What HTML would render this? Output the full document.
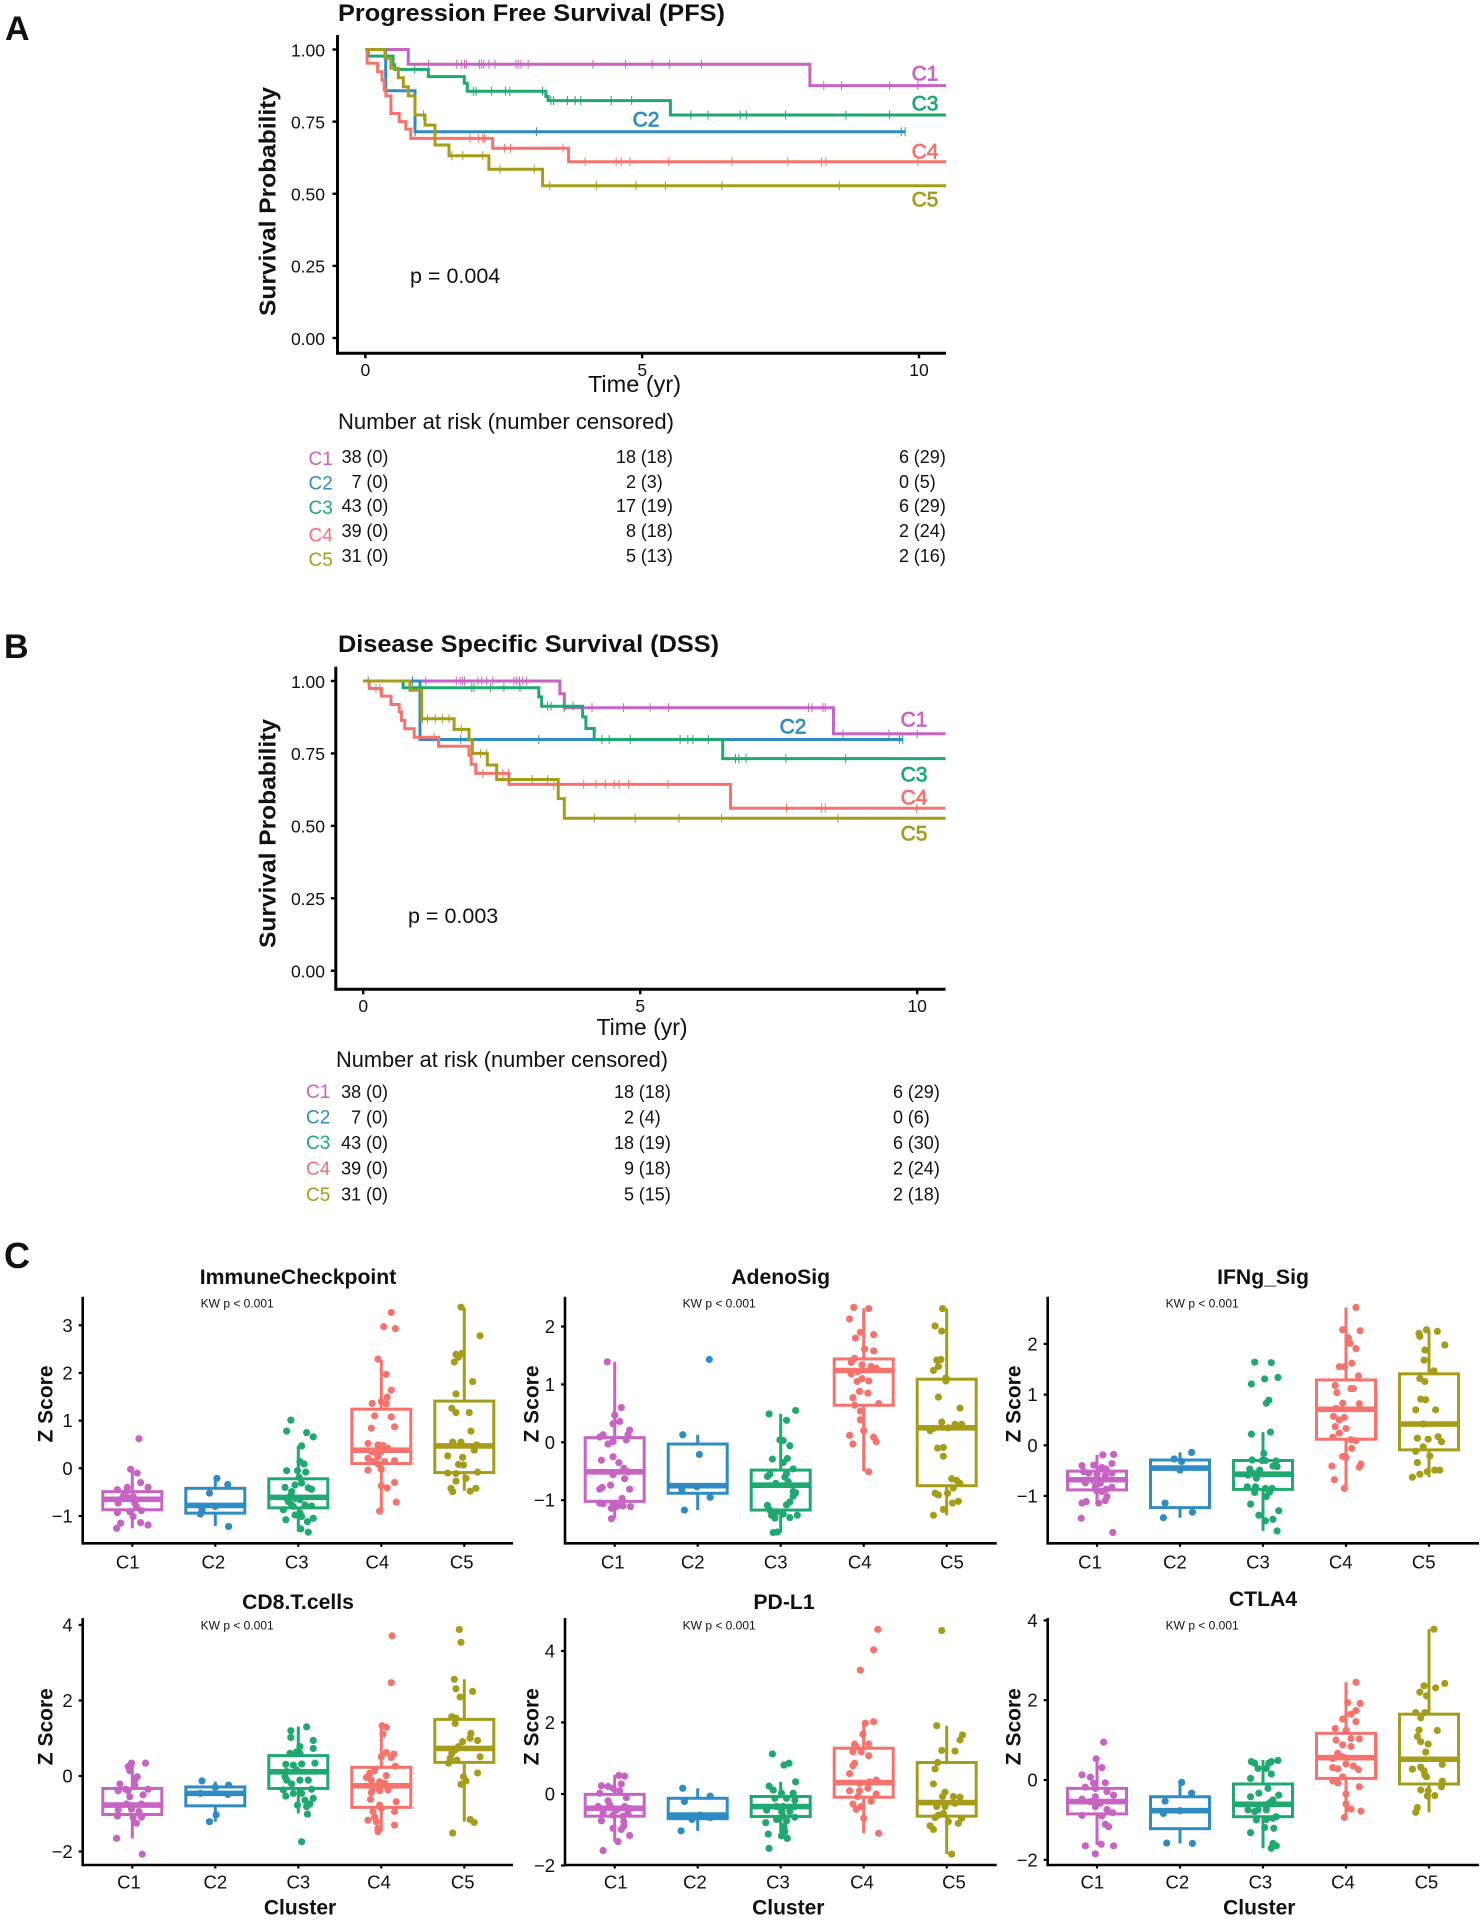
<!DOCTYPE html>
<html lang="en">
<head>
<meta charset="utf-8">
<title>Survival curves and immune score boxplots</title>
<style>
html,body{margin:0;padding:0;background:#fff;}
svg{display:block;font-family:"Liberation Sans",sans-serif;}
text{fill:#111;}
</style>
</head>
<body>
<svg id="figure" xmlns="http://www.w3.org/2000/svg" width="1483" height="1920" viewBox="0 0 1483 1920">
  <rect x="0" y="0" width="1483" height="1920" fill="#fff"/>
  <text x="5" y="40" font-size="34" font-weight="700">A</text>
  <text x="4" y="658" font-size="34" font-weight="700">B</text>
  <text x="4" y="1268" font-size="36" font-weight="700">C</text>

  <text x="338" y="21" font-size="24" font-weight="700" textLength="387" lengthAdjust="spacingAndGlyphs">Progression Free Survival (PFS)</text>
  <text transform="translate(275.5 316) rotate(-90)" font-size="23" font-weight="700" textLength="229" lengthAdjust="spacingAndGlyphs">Survival Probability</text>
  <text x="634.5" y="392" font-size="23.5" text-anchor="middle">Time (yr)</text>
  <text x="410" y="283" font-size="21.5">p = 0.004</text>
  <text x="338" y="429" font-size="22" textLength="336" lengthAdjust="spacingAndGlyphs">Number at risk (number censored)</text>

  <text x="338" y="652" font-size="24" font-weight="700" textLength="381" lengthAdjust="spacingAndGlyphs">Disease Specific Survival (DSS)</text>
  <text transform="translate(275.5 948) rotate(-90)" font-size="23" font-weight="700" textLength="229" lengthAdjust="spacingAndGlyphs">Survival Probability</text>
  <text x="642" y="1035" font-size="23" text-anchor="middle">Time (yr)</text>
  <text x="408" y="923" font-size="21.5">p = 0.003</text>
  <text x="336" y="1067" font-size="22" textLength="332" lengthAdjust="spacingAndGlyphs">Number at risk (number censored)</text>
</svg>
<script>
const categories = ['C1', 'C2', 'C3', 'C4', 'C5'];
const clusterColors = ['#c763c3', '#2f8cc2', '#1fa971', '#f5736c', '#a59d1a'];

/* ---------- survival data: [time, survival] steps ---------- */
const pfsC1Steps = [[0.775,0.949],[8.03,0.875]];
const pfsC2Steps = [[0.366,0.857],[0.896,0.715]];
const pfsC3Steps = [[0.05,0.977],[0.5,0.947],[0.53,0.931],[1.137,0.906],[1.787,0.883],[1.84,0.855],[3.26,0.837],[3.30,0.823],[5.51,0.773]];
const pfsC4Steps = [[0.03,0.952],[0.22,0.923],[0.30,0.894],[0.34,0.86],[0.37,0.839],[0.46,0.778],[0.61,0.75],[0.73,0.724],[0.82,0.692],[2.30,0.658],[3.67,0.611]];
const pfsC5Steps = [[0.354,0.969],[0.46,0.935],[0.594,0.902],[0.685,0.871],[0.775,0.839],[0.896,0.773],[1.076,0.738],[1.257,0.669],[1.51,0.632],[2.23,0.585],[3.2,0.528]];
const pfsC1Censored = [1.14,1.65,1.74,1.79,1.83,2.06,2.10,2.14,2.23,2.34,2.72,2.76,2.81,2.94,4.11,4.70,5.18,5.49,6.07,8.28,8.6,9.47,9.98];
const pfsC2Censored = [0.9,3.09,9.68,9.75];
const pfsC3Censored = [0.89,1.95,2.0,2.28,2.53,2.61,3.2,3.35,3.40,3.65,3.79,3.89,4.44,4.81,5.88,6.19,6.77,6.88,7.59,8.68,9.47];
const pfsC4Censored = [1.89,2.04,2.12,2.15,2.51,2.62,3.57,3.97,4.53,4.62,4.78,5.48,6.62,7.63,8.24,8.32,9.98];
const pfsC5Censored = [1.05,1.56,1.76,2.12,2.43,3.05,3.33,4.17,4.89,5.42,6.44,8.56];
const pfsEndTimes = [null, 9.75, null, null, null];

const dssC1Steps = [[3.55,0.956],[3.63,0.908],[8.49,0.818]];
const dssC2Steps = [[1.025,0.798]];
const dssC3Steps = [[0.72,0.977],[3.17,0.945],[3.22,0.913],[3.96,0.876],[4.02,0.836],[4.17,0.798],[6.49,0.732]];
const dssC4Steps = [[0.11,0.974],[0.33,0.948],[0.50,0.919],[0.65,0.894],[0.69,0.864],[0.75,0.835],[0.92,0.806],[1.36,0.775],[1.91,0.744],[1.95,0.712],[2.03,0.681],[2.63,0.643],[6.63,0.561]];
const dssC5Steps = [[0.845,0.968],[1.056,0.87],[1.64,0.833],[1.91,0.796],[1.97,0.75],[2.24,0.71],[2.41,0.66],[3.52,0.594],[3.63,0.526]];
const dssC1Censored = [1.13,1.68,1.75,1.79,1.83,2.07,2.14,2.23,2.34,2.72,2.77,2.82,2.88,2.95,3.63,4.13,4.70,5.18,5.51,8.04,8.10,8.30,8.34,8.66,9.49,10.0];
const dssC2Censored = [0.89,1.76,3.17,9.68,9.74];
const dssC3Censored = [0.09,1.96,2.0,2.30,2.54,2.83,3.33,3.39,3.64,3.79,4.31,4.44,4.82,5.72,5.86,5.95,6.23,6.72,6.78,6.91,7.63,8.71];
const dssC4Censored = [0.23,0.30,1.28,2.16,2.52,2.62,3.44,3.98,4.2,4.37,4.53,4.62,4.79,5.5,7.64,8.27,8.34,9.99];
const dssC5Censored = [1.07,1.16,1.30,1.43,1.55,1.77,2.12,2.23,3.05,3.33,4.17,4.91,5.7,6.47,8.57];
const dssEndTimes = [null, 9.74, null, null, null];

const survivalYTicks = [1, 0.75, 0.5, 0.25, 0];
const survivalYTickLabels = ['1.00', '0.75', '0.50', '0.25', '0.00'];
const survivalXTicks = [0, 5, 10];

/* ---------- number at risk ---------- */
const pfsAtRisk = [[38,18,6],[7,2,0],[43,17,6],[39,8,2],[31,5,2]];
const pfsNumCensored = [[0,18,29],[0,3,5],[0,19,29],[0,18,24],[0,13,16]];
const dssAtRisk = [[38,18,6],[7,2,0],[43,18,6],[39,9,2],[31,5,2]];
const dssNumCensored = [[0,18,29],[0,4,6],[0,19,30],[0,18,24],[0,15,18]];

/* ---------- box stats: [lower whisker, q1, median, q3, upper whisker] ---------- */
const immuneBoxes = [[-1.26,-0.87,-0.65,-0.49,-0.03],[-1.21,-0.94,-0.78,-0.42,-0.17],[-1.33,-0.83,-0.61,-0.22,0.47],[-0.91,0.10,0.38,1.24,2.27],[-0.47,-0.09,0.47,1.41,3.37]];
const adenoBoxes = [[-1.31,-1.02,-0.51,0.08,1.39],[-1.17,-0.88,-0.75,-0.03,0.13],[-1.56,-1.17,-0.74,-0.48,0.49],[-0.50,0.64,1.24,1.44,2.31],[-1.26,-0.75,0.25,1.09,2.31]];
const ifngBoxes = [[-1.18,-0.88,-0.68,-0.51,-0.19],[-1.43,-1.23,-0.45,-0.29,-0.14],[-1.69,-0.87,-0.57,-0.30,0.26],[-0.85,0.12,0.71,1.29,2.72],[-0.63,-0.09,0.42,1.41,2.28]];
const cd8Boxes = [[-1.65,-1.02,-0.77,-0.33,0.29],[-1.21,-0.79,-0.46,-0.29,-0.15],[-0.99,-0.33,0.11,0.54,1.31],[-1.47,-0.83,-0.26,0.23,1.35],[-1.21,0.36,0.73,1.5,2.56]];
const pdl1Boxes = [[-1.33,-0.62,-0.40,-0.01,0.53],[-1.03,-0.69,-0.59,-0.12,0.16],[-1.21,-0.63,-0.35,-0.07,0.34],[-1.10,-0.09,0.32,1.28,2.02],[-1.68,-0.62,-0.24,0.88,1.91]];
const ctla4Boxes = [[-1.63,-0.85,-0.54,-0.21,0.53],[-1.59,-1.22,-0.77,-0.42,-0.04],[-1.71,-0.92,-0.61,-0.10,0.50],[-0.94,0.04,0.56,1.17,2.45],[-0.81,-0.10,0.52,1.65,3.78]];

/* ---------- sample Z scores and horizontal jitter (in category units) ---------- */
const immuneC1Values = [0.62,-0.02,-0.10,-0.30,-0.40,-0.45,-0.40,-0.52,-0.59,-0.73,-0.73,-0.89,-0.91,-0.93,-1.01,-1.14,-1.19,-1.15,-1.26,-0.63,-0.49,-0.80,-0.59];
const immuneC1Jitter = [0.08,-0.02,0.06,0.10,0.19,-0.18,-0.06,-0.09,0.01,-0.17,0.03,0.11,-0.03,-0.18,0.01,0.10,0.19,-0.14,-0.19,-0.05,-0.07,0.05,-0.11];
const immuneC2Values = [-0.21,-0.34,-0.52,-0.96,-0.80,-0.87,-1.22];
const immuneC2Jitter = [0.02,0.15,-0.07,-0.18,0,-0.16,0.16];
const immuneC3Values = [1.01,0.78,0.75,0.66,0.47,0.09,0.14,-0.05,-0.05,-0.08,-0.19,-0.31,-0.35,-0.40,-0.41,-0.44,-0.49,-0.63,-0.59,-0.63,-0.66,-0.79,-0.77,-0.87,-0.77,-0.98,-1.01,-0.94,-1.05,-1.12,-1.08,-1.27,-1.34,-0.70,-0.80];
const immuneC3Jitter = [-0.09,-0.14,0.10,0.18,0.04,0.07,0.02,-0.14,-0.01,0.09,0.01,0.04,-0.04,-0.16,0.12,0.16,-0.08,-0.14,-0.10,-0.04,0.02,0.16,0.08,-0.18,-0.08,-0.04,0.04,0.02,0.18,0.11,-0.15,0.03,0.12,-0.12,-0.06];
const immuneC4Values = [3.27,2.97,2.93,2.29,1.97,1.64,1.49,1.36,1.40,1.35,1.10,1.08,0.87,0.84,0.52,0.49,0.48,0.42,0.35,0.31,0.35,0.21,0.14,0.24,0.14,0.16,-0.04,-0.02,0.09,-0.30,-0.37,-0.41,-0.71,-0.90];
const immuneC4Jitter = [0.12,0.03,0.17,-0.04,0.06,0.12,0.07,-0.11,0,0.06,-0.08,0.12,0.16,-0.12,-0.16,-0.04,0.02,0.08,-0.12,-0.06,0,-0.16,-0.10,-0.04,0.04,0.16,-0.16,0,-0.04,0.16,0,0.07,0.18,-0.02];
const immuneC5Values = [3.38,2.78,2.39,2.41,2.33,2.23,1.82,1.56,1.26,1.17,1.17,0.78,0.55,0.55,0.49,0.38,0.26,0.23,0.08,0.07,-0.1,-0.11,-0.08,-0.21,-0.27,-0.42,-0.49,-0.48,-0.42];
const immuneC5Jitter = [-0.04,0.19,-0.10,-0.03,-0.07,-0.12,0.10,-0.10,-0.15,-0.10,0.06,0.08,-0.14,-0.04,0.15,0.12,-0.20,-0.02,-0.07,-0.01,-0.20,-0.10,0.16,0.02,-0.10,-0.16,-0.14,0.07,0.14];

const adenoC1Values = [1.39,0.60,0.47,0.36,0.32,0.21,0.13,0.13,0.09,0.04,0.01,-0.03,-0.25,-0.31,-0.35,-0.45,-0.51,-0.56,-0.63,-0.74,-0.78,-0.81,-0.81,-0.97,-1.05,-1.06,-1.06,-1.09,-1.10,-1.11,-1.14,-1.11,-1.32];
const adenoC1Jitter = [-0.09,0.08,0,0.06,-0.02,0.18,0.16,-0.14,-0.18,0.14,-0.02,-0.08,-0.02,-0.16,0.05,0.11,0.16,-0.02,0.12,-0.05,-0.15,-0.18,0.18,0.09,-0.18,-0.14,-0.02,0.04,0.10,0.19,-0.04,0.02,-0.04];
const adenoC2Values = [1.43,0.13,-0.21,-0.82,-0.95,-1.17,-0.77];
const adenoC2Jitter = [0.14,-0.18,0.02,-0.19,0.15,-0.16,-0.01];
const adenoC3Values = [0.49,0.55,0.38,0.04,0.03,-0.06,-0.29,-0.28,-0.35,-0.46,-0.55,-0.54,-0.59,-0.60,-0.71,-0.68,-0.85,-0.87,-0.93,-1.03,-1.08,-1.09,-1.17,-1.26,-1.24,-1.31,-1.30,-1.26,-1.56,-1.55,-1.20];
const adenoC3Jitter = [-0.14,0.18,0.07,-0.01,0.03,0.11,-0.10,0.08,0.03,0.15,-0.13,0.07,-0.16,0.05,-0.06,0.09,0.15,0.18,0.15,0.11,0.07,-0.16,-0.13,-0.11,0.03,-0.07,0.11,0.20,-0.09,-0.04,-0.05];
const adenoC4Values = [2.33,2.31,2.13,1.90,1.86,1.80,1.61,1.58,1.45,1.38,1.34,1.31,1.28,1.22,1.18,1.10,1.05,1.06,0.88,0.85,0.77,0.67,0.64,0.54,0.39,0.20,0.12,0.09,0.01,-0.03,-0.51];
const adenoC4Jitter = [-0.12,0.06,-0.17,-0.04,0.12,-0.10,0.01,0.12,-0.11,-0.15,-0.02,0.09,0.15,-0.07,-0.15,-0.02,-0.08,0.06,-0.05,0.05,-0.13,0.18,-0.11,-0.04,-0.04,0,-0.17,0.12,0.15,-0.13,0.06];
const adenoC5Values = [2.31,2.01,1.92,1.43,1.42,1.31,1.24,1.11,1.06,0.78,0.59,0.35,0.31,0.31,0.25,0.24,0.20,-0.09,-0.10,-0.24,-0.63,-0.66,-0.71,-0.79,-0.88,-0.88,-0.91,-1.02,-1.05,-1.16,-1.26];
const adenoC5Jitter = [-0.05,-0.14,-0.06,-0.07,-0.12,-0.10,-0.16,-0.01,-0.01,-0.10,0.16,-0.06,0.10,0.18,0.02,-0.16,-0.20,-0.04,-0.11,-0.04,0.06,0.12,0.16,0.08,0.01,-0.14,-0.10,0.14,0.07,-0.04,-0.16];

const ifngC1Values = [-0.19,-0.18,-0.36,-0.39,-0.40,-0.44,-0.47,-0.52,-0.55,-0.55,-0.58,-0.60,-0.74,-0.70,-0.75,-0.83,-0.90,-0.87,-1.01,-1.09,-1.11,-1.14,-1.14,-1.44,-1.72,-0.82,-0.91];
const ifngC1Jitter = [0.07,0.20,0.18,-0.04,-0.18,0.06,0.11,-0.16,-0.10,0.18,0,0.10,-0.14,-0.04,0.04,0.18,0,0.11,0.12,0.10,-0.13,-0.18,0.02,-0.19,0.19,-0.02,0.06];
const ifngC2Values = [-0.14,-0.27,-0.32,-1.14,-1.32,-1.43,-0.49];
const ifngC2Jitter = [0.14,-0.07,0.02,-0.18,0.15,-0.20,0];
const ifngC3Values = [1.64,1.63,1.31,1.34,1.21,0.89,0.83,0.22,0.26,-0.16,-0.29,-0.30,-0.30,-0.31,-0.41,-0.42,-0.47,-0.49,-0.55,-0.59,-0.65,-0.82,-0.82,-0.85,-0.85,-0.93,-0.92,-1.01,-1.16,-1.29,-1.38,-1.46,-1.49,-1.69];
const ifngC3Jitter = [-0.10,0.10,0.02,0.18,-0.14,0.07,0.04,-0.14,0.09,0.01,-0.13,-0.01,0.03,0.16,0.12,0.17,-0.16,-0.04,-0.12,-0.18,-0.08,-0.19,-0.09,0.03,0.11,-0.10,0.08,0.04,-0.15,0.19,-0.05,0.12,0.03,0.17];
const ifngC4Values = [2.72,2.28,2.26,2.12,2.01,1.91,1.62,1.55,1.55,1.37,1.18,1.12,1.12,1.04,0.83,0.82,0.73,0.57,0.55,0.50,0.37,0.33,0.24,0.16,0.11,0.09,-0.06,-0.22,-0.24,-0.41,-0.37,-0.43,-0.68,-0.85];
const ifngC4Jitter = [0.12,-0.04,0.17,0.03,0.05,0.12,0.07,-0.08,-0.02,0.15,-0.13,0.06,0.09,-0.11,-0.04,0.16,-0.12,-0.15,-0.02,-0.08,-0.13,0,-0.08,-0.16,0.06,0.12,0.07,-0.04,0,-0.17,0.18,0.16,-0.14,-0.02];
const ifngC5Values = [2.28,2.25,2.21,2.15,1.98,1.88,1.68,1.47,1.32,1.26,0.91,0.90,0.70,0.70,0.42,0.17,0.14,0.12,0.07,-0.03,-0.12,-0.21,-0.34,-0.49,-0.52,-0.49,-0.57,-0.63];
const ifngC5Jitter = [-0.03,0.10,-0.12,-0.11,0.19,-0.05,-0.06,0.06,-0.11,-0.05,-0.10,-0.04,-0.16,0.08,-0.07,0.11,-0.14,-0.01,0.15,-0.07,-0.16,0.01,-0.14,0.07,-0.02,0.13,-0.11,-0.20];

const cd8C1Values = [0.34,0.25,0.34,0.14,-0.02,-0.11,-0.21,-0.26,-0.35,-0.39,-0.39,-0.35,-0.50,-0.55,-0.74,-0.74,-0.90,-0.88,-1.06,-1.09,-1.09,-1.25,-1.65,-2.07,-0.94];
const cd8C1Jitter = [-0.01,-0.05,0.16,-0.03,0.06,0.03,-0.15,0.03,-0.08,-0.17,-0.05,0.19,0.13,-0.03,-0.07,0.11,-0.17,-0.01,-0.18,0.01,0.11,0.05,-0.19,0.12,0.08];
const cd8C2Values = [-0.13,-0.24,-0.30,-0.49,-1.03,-1.21,-0.46];
const cd8C2Jitter = [-0.16,0.16,0,0.15,0.01,-0.07,-0.18];
const cd8C3Values = [1.30,1.20,1.02,0.94,0.78,0.73,0.60,0.64,0.60,0.34,0.31,0.29,0.32,0.12,0.16,-0.02,-0.21,-0.11,-0.11,-0.37,-0.46,-0.35,-0.53,-0.64,-0.59,-0.74,-0.77,-0.81,-1.01,-1.74,-0.11,-0.46];
const cd8C3Jitter = [0.10,-0.09,-0.09,0.18,0.02,0.18,-0.10,-0.02,0.02,0.20,-0.15,-0.06,0.04,-0.14,-0.02,-0.16,-0.08,0.02,0.12,-0.18,0.04,0.16,-0.15,0.08,0.18,0.14,-0.01,0.10,0.11,0.04,-0.14,-0.06];
const cd8C4Values = [3.71,2.47,1.33,1.29,1.11,0.62,0.58,0.51,0.49,0.26,0.14,0.07,0.01,-0.04,-0.11,-0.15,-0.19,-0.33,-0.37,-0.39,-0.44,-0.62,-0.68,-0.77,-0.86,-0.94,-0.94,-1.09,-1.17,-1.21,-1.30,-1.39,-1.47];
const cd8C4Jitter = [0.13,0.12,0.01,0.06,0.02,0.06,0.15,0,0.12,0.17,-0.08,-0.14,0.06,-0.18,-0.12,-0.02,0.04,-0.10,0.08,-0.02,-0.12,-0.13,0.18,-0.02,0,0.16,-0.10,-0.08,-0.16,-0.06,0.16,-0.04,-0.04];
const cd8C5Values = [3.88,3.54,2.56,2.31,2.24,2.09,1.57,1.53,1.39,1.13,1.00,0.94,0.91,0.78,0.69,0.60,0.51,0.34,0.42,0.47,0.08,-0.02,-0.13,-0.22,-1.15,-1.23,-1.51];
const cd8C5Jitter = [-0.06,-0.04,-0.12,-0.10,0.10,-0.05,-0.15,-0.10,-0.11,0.08,0.07,0.16,-0.02,-0.07,-0.11,-0.15,0.19,-0.19,-0.09,-0.17,0.16,-0.01,0.02,-0.04,0.07,0.12,-0.14];

const pdl1C1Values = [0.52,0.50,0.28,0.23,0.21,0.16,0.09,0.02,-0.19,-0.10,-0.35,-0.31,-0.45,-0.35,-0.40,-0.54,-0.59,-0.62,-0.54,-0.75,-0.77,-0.89,-0.96,-0.99,-1.16,-1.33,-1.58];
const pdl1C1Jitter = [0.05,0.12,0.08,-0.16,-0.08,-0.02,0.06,-0.18,-0.08,0.14,-0.20,-0.06,0.02,0.12,0.18,-0.14,-0.02,0.10,0.16,-0.16,0.11,0.11,-0.02,0.08,0.18,0.04,-0.14];
const pdl1C2Values = [0.16,-0.06,-0.21,-0.71,-0.66,-1.03,-0.59];
const pdl1C2Jitter = [-0.18,0.15,-0.16,-0.07,0.15,-0.20,0.03];
const pdl1C3Values = [1.12,0.86,0.81,0.34,0.22,0.11,0.02,0.02,-0.12,-0.12,-0.17,-0.35,-0.35,-0.35,-0.45,-0.49,-0.49,-0.65,-0.62,-0.71,-0.75,-0.80,-0.91,-1.12,-1.05,-1.17,-1.24,-1.52];
const pdl1C3Jitter = [-0.10,0.10,0.04,0.18,-0.14,-0.09,0.01,0.15,-0.07,0.07,0.17,-0.05,0.03,0.17,-0.17,0.01,0.11,0.17,0.03,-0.05,0.07,-0.18,0.04,-0.15,0.05,0.01,0.08,-0.14];
const pdl1C4Values = [4.60,4.03,3.46,2.02,1.98,1.67,1.39,1.40,1.32,1.18,1.18,1.07,0.86,0.79,0.57,0.39,0.34,0.30,0.16,0.09,0.09,0,-0.07,-0.20,-0.28,-0.35,-0.43,-0.68,-1.10];
const pdl1C4Jitter = [0.17,0.12,-0.04,0.12,0.02,-0.01,-0.11,0.06,-0.09,-0.13,-0.03,0.06,-0.11,-0.13,-0.17,0.15,0.07,-0.05,0.05,-0.17,-0.05,0.15,-0.07,0.09,-0.13,-0.03,-0.09,0,0.18];
const pdl1C5Values = [4.57,1.91,1.65,1.51,1.22,1.20,0.88,0.70,0.28,0.05,-0.07,-0.07,-0.09,-0.26,-0.35,-0.35,-0.54,-0.59,-0.66,-0.77,-0.68,-0.82,-0.89,-0.99,-1.68];
const pdl1C5Jitter = [-0.06,-0.12,0.19,0.16,-0.06,0.10,-0.11,-0.14,-0.16,-0.02,-0.05,0.08,0.16,0.10,-0.02,-0.12,-0.04,-0.10,-0.14,0.02,0.18,0.14,-0.20,-0.16,0.06];

const ctla4C1Values = [0.95,0.53,0.31,0.13,0.07,-0.08,-0.07,-0.18,-0.21,-0.29,-0.38,-0.42,-0.48,-0.58,-0.67,-0.74,-0.82,-0.89,-0.90,-1.11,-1.17,-1.65,-1.61,-1.65,-1.85,-0.54];
const ctla4C1Jitter = [0.08,-0.01,0.06,-0.18,-0.08,-0.04,0.10,-0.14,-0.02,0.12,0.20,-0.02,-0.18,0.04,-0.02,0.12,0.19,-0.18,0.06,0.10,0.14,-0.14,0.05,0.20,-0.02,-0.08];
const ctla4C2Values = [-0.06,-0.33,-0.53,-0.84,-0.77,-1.58,-1.59];
const ctla4C2Jitter = [0.02,0.14,-0.18,-0.20,0,-0.16,0.15];
const ctla4C3Values = [0.46,0.42,0.49,0.46,0.42,0.29,0.29,0.15,0.04,-0.21,-0.33,-0.42,-0.38,-0.50,-0.57,-0.67,-0.75,-0.79,-0.75,-0.92,-0.96,-1.0,-0.99,-1.19,-1.21,-1.32,-1.59,-1.65,-1.71,-0.75];
const ctla4C3Jitter = [-0.14,-0.10,0.18,0.10,0.07,-0.06,0.04,0.10,-0.15,0.06,-0.05,-0.15,0.19,0.12,0.08,0.04,-0.18,-0.10,0.04,0.16,0.12,-0.08,0.04,0.02,0.13,-0.15,0.12,0.16,0.10,-0.06];
const ctla4C4Values = [2.45,1.94,1.92,1.74,1.65,1.53,1.46,1.29,1.24,1.0,1.04,1.03,0.88,0.84,0.67,0.58,0.54,0.40,0.35,0.31,0.28,0.26,0.08,-0.02,-0.07,-0.17,-0.35,-0.60,-0.73,-0.78,-0.94];
const ctla4C4Jitter = [0.12,0.02,0.17,0.12,0.06,-0.04,0.12,-0.13,0,-0.12,0.06,0.16,-0.04,0.06,-0.10,-0.04,-0.16,0,0.09,-0.16,-0.10,0.15,-0.04,-0.16,-0.10,0.16,0,0,0.06,0.18,-0.02];
const ctla4C5Values = [3.78,2.42,2.36,2.31,2.20,2.11,1.69,1.69,1.56,1.25,1.24,1.09,0.96,0.90,0.70,0.39,0.32,0.27,0.23,0.13,0.08,-0.03,-0.17,-0.25,-0.27,-0.39,-0.40,-0.69,-0.81];
const ctla4C5Jitter = [0.06,0.19,-0.06,0.08,-0.11,-0.03,-0.16,-0.05,-0.10,-0.12,0.10,-0.14,-0.10,-0.01,-0.04,0.16,-0.10,-0.20,-0.06,-0.05,-0.03,0.16,0.15,-0.10,-0.01,0.07,-0.02,-0.14,-0.16];

const immuneYTicks = [3, 2, 1, 0, -1];
const adenoYTicks = [2, 1, 0, -1];
const ifngYTicks = [2, 1, 0, -1];
const cd8YTicks = [4, 2, 0, -2];
const pdl1YTicks = [4, 2, 0, -2];
const ctla4YTicks = [4, 2, 0, -2];

/* ---------- drawing ---------- */
const NS = 'http://www.w3.org/2000/svg';
const root = document.getElementById('figure');
function make(tag, attrs, parent, txt) {
  const n = document.createElementNS(NS, tag);
  for (const k in attrs) n.setAttribute(k, attrs[k]);
  if (txt !== undefined) n.textContent = txt;
  (parent || root).appendChild(n);
  return n;
}
function linearScale(zeroPx, pxPerUnit) { return v => zeroPx + v * pxPerUnit; }

/* survival panels */
function survivalAt(steps, t) {
  let s = 1;
  for (const st of steps) { if (st[0] <= t) s = st[1]; }
  return s;
}
function drawSurvival(cfg) {
  const g = make('g', {});
  
  
  const x = linearScale(cfg.t0, cfg.pxPerYear);
  const y = linearScale(cfg.s0, -cfg.pxPerUnit);
  const tMax = (cfg.right - cfg.t0) / cfg.pxPerYear;

  const yAxis = make('line', {x1: cfg.axisX, x2: cfg.axisX, y1: cfg.top, y2: cfg.axisY + 1.5, stroke: '#000', 'stroke-width': 3}, g);
  
  
  const xAxis = make('line', {x1: cfg.axisX, x2: cfg.right, y1: cfg.axisY, y2: cfg.axisY, stroke: '#000', 'stroke-width': 3}, g);
  
  

  survivalYTicks.forEach((v, i) => {
    const tick = make('line', {x1: cfg.axisX - 5, x2: cfg.axisX, y1: y(v), y2: y(v), stroke: '#000', 'stroke-width': 2.4}, g);
    
    
    const lab = make('text', {x: 325, y: y(v) + 6.8, 'font-size': 17.5, 'text-anchor': 'end'}, g, survivalYTickLabels[i]);
    
    
  });
  survivalXTicks.forEach(v => {
    const tick = make('line', {x1: x(v), x2: x(v), y1: cfg.axisY, y2: cfg.axisY + 5, stroke: '#000', 'stroke-width': 2.4}, g);
    
    
    const lab = make('text', {x: x(v), y: cfg.axisY + 22.5, 'font-size': 17.5, 'text-anchor': 'middle'}, g, String(v));
    
    
  });

  categories.forEach((c, i) => {
    const steps = cfg.steps[i];
    const end = cfg.ends[i] === null ? tMax : cfg.ends[i];
    let d = 'M' + x(0) + ' ' + y(1);
    steps.forEach(st => { d += 'H' + x(st[0]).toFixed(1) + 'V' + y(st[1]).toFixed(1); });
    d += 'H' + x(end).toFixed(1);
    const curve = make('path', {d: d, fill: 'none', stroke: clusterColors[i], 'stroke-width': 3, 'stroke-linejoin': 'miter'}, g);
    
    
    cfg.censored[i].forEach(t => {
      const yy = y(survivalAt(steps, t));
      const mark = make('line', {x1: x(t), x2: x(t), y1: yy - 4.5, y2: yy + 4.5, stroke: clusterColors[i], 'stroke-width': 1}, g);
      
      
    });
    const lab = make('text', {x: cfg.labels[i][0], y: cfg.labels[i][1] + 7.5, 'font-size': 21, 'text-anchor': 'middle', style: 'fill:' + clusterColors[i] + ';stroke:' + clusterColors[i] + ';stroke-width:0.7'}, g, c);
    
    
    /* risk table row */
    const rowBase = cfg.rowBase[i];
    const rl = make('text', {x: cfg.rowLabelX, y: cfg.rowLabelBase[i], 'font-size': 19, style: 'fill:' + clusterColors[i]}, g, c);
    
    
    cfg.risk[i].forEach((n, j) => {
      const a = make('text', {x: cfg.colEnd[j], y: rowBase, 'font-size': 18, 'text-anchor': 'end'}, g, String(n));
      
      
      const b = make('text', {x: cfg.colEnd[j] + 4.8, y: rowBase, 'font-size': 18}, g, '(' + cfg.cens[i][j] + ')');
      
      
    });
  });
}

drawSurvival({
  name: 'pfs', axisX: 337.5, top: 35, axisY: 353.3, right: 946, t0: 365.4, pxPerYear: 55.36, s0: 338, pxPerUnit: 288.5,
  steps: [pfsC1Steps, pfsC2Steps, pfsC3Steps, pfsC4Steps, pfsC5Steps],
  censored: [pfsC1Censored, pfsC2Censored, pfsC3Censored, pfsC4Censored, pfsC5Censored],
  ends: pfsEndTimes,
  labels: [[925,73],[646,119],[925,103],[925,151],[925,199]],
  risk: pfsAtRisk, cens: pfsNumCensored,
  rowBase: [463,488,512,537,562], rowLabelBase: [465,489.5,514,541.5,566], rowLabelX: 308.5, colEnd: [361.6,636,909]
});
drawSurvival({
  name: 'dss', axisX: 335.8, top: 666.7, axisY: 989.3, right: 945.5, t0: 363.2, pxPerYear: 55.4, s0: 970.7, pxPerUnit: 289.7,
  steps: [dssC1Steps, dssC2Steps, dssC3Steps, dssC4Steps, dssC5Steps],
  censored: [dssC1Censored, dssC2Censored, dssC3Censored, dssC4Censored, dssC5Censored],
  ends: dssEndTimes,
  labels: [[914,719],[793,726],[914,774],[914,797],[914,833]],
  risk: dssAtRisk, cens: dssNumCensored,
  rowBase: [1098,1123.5,1149,1174.5,1200.5], rowLabelBase: [1098,1123.5,1149,1175,1201], rowLabelX: 306, colEnd: [361.2,634,903]
});

/* boxplot panels */
function drawBoxPanel(cfg) {
  const g = make('g', {});
  
  
  const y = linearScale(cfg.zero, -cfg.unit);
  const x = i => cfg.firstTick + i * 83;

  const title = make('text', {x: cfg.titleX, y: cfg.titleY, 'font-size': 21.2, 'font-weight': 700, 'text-anchor': 'middle'}, g, cfg.title);
  
  
  const kw = make('text', {x: cfg.kwX, y: cfg.kwY, 'font-size': 11.5, textLength: 73, lengthAdjust: 'spacingAndGlyphs'}, g, 'KW p < 0.001');
  
  
  const zt = make('text', {transform: 'translate(' + cfg.zX + ' ' + cfg.zY + ') rotate(-90)', 'font-size': 21, 'font-weight': 700, 'text-anchor': 'middle'}, g, 'Z Score');
  
  

  const yAxis = make('line', {x1: cfg.axisX, x2: cfg.axisX, y1: cfg.top, y2: cfg.axisY + 1.3, stroke: '#000', 'stroke-width': 2.6}, g);
  
  
  const xAxis = make('line', {x1: cfg.axisX, x2: cfg.right, y1: cfg.axisY, y2: cfg.axisY, stroke: '#000', 'stroke-width': 2.6}, g);
  
  

  cfg.yTicks.forEach(v => {
    const tick = make('line', {x1: cfg.axisX - 4, x2: cfg.axisX, y1: y(v), y2: y(v), stroke: '#000', 'stroke-width': 2.2}, g);
    
    
    const lab = make('text', {x: cfg.axisX - 10, y: y(v) + 6.5, 'font-size': 18.5, 'text-anchor': 'end'}, g, String(v).replace('-', '\u2212'));
    
    
  });

  categories.forEach((c, i) => {
    const col = clusterColors[i];
    const tick = make('line', {x1: x(i), x2: x(i), y1: cfg.axisY, y2: cfg.axisY + 3.5, stroke: '#000', 'stroke-width': 2.2}, g);
    
    
    const lab = make('text', {x: x(i) + cfg.labelShift[i], y: cfg.labelY, 'font-size': 18.5, 'text-anchor': 'middle'}, g, c);
    
    

    const box = cfg.boxes[i];
    const whisker = make('line', {x1: x(i), x2: x(i), y1: y(box[0]), y2: y(box[4]), stroke: col, 'stroke-width': 3}, g);
    
    
    const rect = make('rect', {x: x(i) - 29.5, y: y(box[3]), width: 59, height: y(box[1]) - y(box[3]), fill: '#fff', stroke: col, 'stroke-width': 3}, g);
    
    
    const med = make('line', {x1: x(i) - 29.5, x2: x(i) + 29.5, y1: y(box[2]), y2: y(box[2]), stroke: col, 'stroke-width': 5.6}, g);
    
    
    cfg.values[i].forEach((v, k) => {
      const pt = make('circle', {cx: x(i) + (cfg.jitter[i][k] || 0) * 83, cy: y(v), r: 3.6, fill: col}, g);
      
      
    });
  });

  if (cfg.clusterX) {
    const xt = make('text', {x: cfg.clusterX, y: 1914.3, 'font-size': 21, 'font-weight': 700, 'text-anchor': 'middle'}, g, 'Cluster');
    
    
  }
}

drawBoxPanel({
  name: 'immune-checkpoint', title: 'ImmuneCheckpoint', titleX: 298, titleY: 1284, kwX: 200.7, kwY: 1307.7, zX: 52.7, zY: 1404,
  axisX: 82.7, top: 1296.7, axisY: 1543.3, right: 513, firstTick: 132.3, zero: 1468.3, unit: 47.67, labelY: 1568.3,
  labelShift: [-4.6,-2,-1.6,-4,-2.6], yTicks: immuneYTicks, boxes: immuneBoxes,
  values: [immuneC1Values, immuneC2Values, immuneC3Values, immuneC4Values, immuneC5Values],
  jitter: [immuneC1Jitter, immuneC2Jitter, immuneC3Jitter, immuneC4Jitter, immuneC5Jitter]
});
drawBoxPanel({
  name: 'adeno-sig', title: 'AdenoSig', titleX: 780.7, titleY: 1284, kwX: 682.7, kwY: 1307.7, zX: 538.3, zY: 1404,
  axisX: 565, top: 1296.7, axisY: 1543.3, right: 996.7, firstTick: 614.7, zero: 1442.3, unit: 57.9, labelY: 1568.3,
  labelShift: [-2,-5,-5,-4,5.3], yTicks: adenoYTicks, boxes: adenoBoxes,
  values: [adenoC1Values, adenoC2Values, adenoC3Values, adenoC4Values, adenoC5Values],
  jitter: [adenoC1Jitter, adenoC2Jitter, adenoC3Jitter, adenoC4Jitter, adenoC5Jitter]
});
drawBoxPanel({
  name: 'ifng-sig', title: 'IFNg_Sig', titleX: 1263, titleY: 1284, kwX: 1165.7, kwY: 1307.7, zX: 1020.7, zY: 1404,
  axisX: 1047.7, top: 1296.7, axisY: 1543.3, right: 1479, firstTick: 1097, zero: 1445.3, unit: 50.67, labelY: 1568.3,
  labelShift: [-7,-5,-5,-5.3,-5.3], yTicks: ifngYTicks, boxes: ifngBoxes,
  values: [ifngC1Values, ifngC2Values, ifngC3Values, ifngC4Values, ifngC5Values],
  jitter: [ifngC1Jitter, ifngC2Jitter, ifngC3Jitter, ifngC4Jitter, ifngC5Jitter]
});
drawBoxPanel({
  name: 'cd8-t-cells', title: 'CD8.T.cells', titleX: 298, titleY: 1609, kwX: 200.7, kwY: 1629.3, zX: 52.7, zY: 1726.7,
  axisX: 82.7, top: 1618, axisY: 1865, right: 513, firstTick: 132.3, zero: 1776, unit: 37.77, labelY: 1888.3,
  labelShift: [-3.3,0,0,-2.3,-1.6], yTicks: cd8YTicks, boxes: cd8Boxes,
  values: [cd8C1Values, cd8C2Values, cd8C3Values, cd8C4Values, cd8C5Values],
  jitter: [cd8C1Jitter, cd8C2Jitter, cd8C3Jitter, cd8C4Jitter, cd8C5Jitter],
  clusterX: 300
});
drawBoxPanel({
  name: 'pd-l1', title: 'PD-L1', titleX: 784, titleY: 1609, kwX: 682.7, kwY: 1629.3, zX: 538.3, zY: 1726.7,
  axisX: 565, top: 1618, axisY: 1865, right: 996.7, firstTick: 614.7, zero: 1794, unit: 35.77, labelY: 1888.3,
  labelShift: [1,-2.7,-2.7,-1.7,7.3], yTicks: pdl1YTicks, boxes: pdl1Boxes,
  values: [pdl1C1Values, pdl1C2Values, pdl1C3Values, pdl1C4Values, pdl1C5Values],
  jitter: [pdl1C1Jitter, pdl1C2Jitter, pdl1C3Jitter, pdl1C4Jitter, pdl1C5Jitter],
  clusterX: 788.3
});
drawBoxPanel({
  name: 'ctla4', title: 'CTLA4', titleX: 1263, titleY: 1606, kwX: 1165.7, kwY: 1629.3, zX: 1020.7, zY: 1726.7,
  axisX: 1047.7, top: 1618, axisY: 1865, right: 1479, firstTick: 1097, zero: 1780, unit: 39.9, labelY: 1888.3,
  labelShift: [-4.7,-2.7,-2.6,-3,-2.6], yTicks: ctla4YTicks, boxes: ctla4Boxes,
  values: [ctla4C1Values, ctla4C2Values, ctla4C3Values, ctla4C4Values, ctla4C5Values],
  jitter: [ctla4C1Jitter, ctla4C2Jitter, ctla4C3Jitter, ctla4C4Jitter, ctla4C5Jitter],
  clusterX: 1259.3
});
</script>
</body>
</html>
